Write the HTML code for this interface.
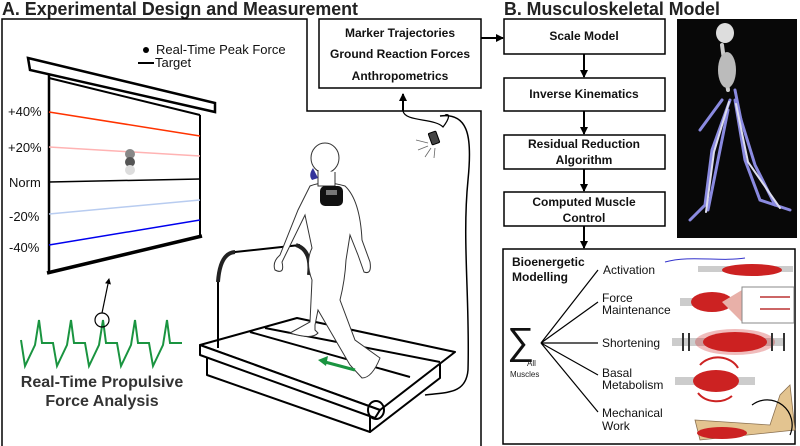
<!DOCTYPE html>
<html><head><meta charset="utf-8"><style>
html,body{margin:0;padding:0;background:#fff;}
svg{display:block;font-family:"Liberation Sans",sans-serif;}
</style></head><body>
<svg width="800" height="446" viewBox="0 0 800 446" xmlns="http://www.w3.org/2000/svg">
<defs>
<marker id="ah" markerWidth="8" markerHeight="8" refX="7" refY="4" orient="auto" markerUnits="userSpaceOnUse"><path d="M0,0 L8,4 L0,8 Z" fill="#000"/></marker>
<marker id="as" markerWidth="6" markerHeight="6" refX="5" refY="3" orient="auto" markerUnits="userSpaceOnUse"><path d="M0,0 L6,3 L0,6 Z" fill="#000"/></marker>
</defs>
<!-- titles -->
<text x="2" y="15" font-size="18" font-weight="bold" fill="#222" textLength="356" lengthAdjust="spacingAndGlyphs">A. Experimental Design and Measurement</text>
<text x="504" y="15" font-size="18" font-weight="bold" fill="#222" textLength="216" lengthAdjust="spacingAndGlyphs">B. Musculoskeletal Model</text>
<!-- panel A outline -->
<path d="M2,446 L2,19 L307,19 L307,111 L481,111 L481,446" fill="none" stroke="#000" stroke-width="1.5"/>
<!-- marker box -->
<rect x="319" y="19" width="162" height="69" fill="#fff" stroke="#000" stroke-width="1.5"/>
<g font-size="12" font-weight="bold" text-anchor="middle" fill="#111">
<text x="400" y="37">Marker Trajectories</text>
<text x="400" y="58">Ground Reaction Forces</text>
<text x="400" y="80">Anthropometrics</text>
</g>
<line x1="481" y1="38" x2="503" y2="38" stroke="#000" stroke-width="2" marker-end="url(#ah)"/>
<!-- flow boxes -->
<g fill="#fff" stroke="#000" stroke-width="1.5">
<rect x="504" y="19" width="161" height="35"/>
<rect x="504" y="78" width="161" height="33"/>
<rect x="504" y="135" width="161" height="34"/>
<rect x="504" y="192" width="161" height="34"/>
<rect x="503" y="249" width="292" height="195"/>
</g>
<g font-size="12" font-weight="bold" text-anchor="middle" fill="#111">
<text x="584" y="40">Scale Model</text>
<text x="584" y="98">Inverse Kinematics</text>
<text x="584" y="148">Residual Reduction</text>
<text x="584" y="164">Algorithm</text>
<text x="584" y="206">Computed Muscle</text>
<text x="584" y="222">Control</text>
</g>
<g stroke="#000" stroke-width="2" marker-end="url(#ah)">
<line x1="584" y1="54" x2="584" y2="77"/>
<line x1="584" y1="111" x2="584" y2="134"/>
<line x1="584" y1="169" x2="584" y2="191"/>
<line x1="584" y1="226" x2="584" y2="248"/>
</g>
<!-- skeleton panel -->
<rect x="677" y="19" width="120" height="219" fill="#080808"/>
<g stroke-linecap="round">
<ellipse cx="725" cy="33" rx="9" ry="10" fill="#ddd"/>
<path d="M722,45 L728,90" stroke="#ccc" stroke-width="4"/>
<ellipse cx="727" cy="70" rx="9" ry="18" fill="#bbb"/>
<g stroke="#8a8ae0" stroke-width="3" fill="none">
<path d="M730,100 L712,150 L705,205 L690,220"/>
<path d="M735,100 L745,160 L760,200 L790,210"/>
<path d="M728,110 L718,160 L708,210"/>
<path d="M738,110 L755,165 L775,205"/>
<path d="M722,100 L700,130"/>
<path d="M735,90 L742,125"/>
</g>
<g stroke="#dde" stroke-width="2" fill="none">
<path d="M729,102 L714,152 L706,212"/>
<path d="M736,104 L748,162 L780,208"/>
</g>
</g>
<!-- screen -->
<path d="M28,58 L215,103 L215,112 L30,70 Z" fill="#fff" stroke="#000" stroke-width="2.5"/>
<line x1="49" y1="78" x2="200" y2="115" stroke="#000" stroke-width="2"/>
<line x1="49" y1="75" x2="49" y2="273" stroke="#000" stroke-width="2.5"/>
<line x1="200" y1="115" x2="200" y2="237" stroke="#000" stroke-width="2"/>
<line x1="47" y1="273" x2="202" y2="236" stroke="#000" stroke-width="3.5"/>
<line x1="49" y1="112" x2="200" y2="136" stroke="#ff3300" stroke-width="1.5"/>
<line x1="49" y1="147" x2="200" y2="156" stroke="#ffb3b3" stroke-width="1.5"/>
<line x1="49" y1="182" x2="200" y2="179" stroke="#000" stroke-width="1.5"/>
<line x1="49" y1="214" x2="200" y2="200" stroke="#b8ccf0" stroke-width="1.5"/>
<line x1="49" y1="245" x2="200" y2="220" stroke="#0000ee" stroke-width="1.5"/>
<circle cx="130" cy="154" r="5" fill="#888"/>
<circle cx="130" cy="162" r="5" fill="#555"/>
<circle cx="130" cy="170" r="5" fill="#ddd"/>
<g font-size="13" fill="#111">
<text x="8" y="116">+40%</text>
<text x="8" y="152">+20%</text>
<text x="9" y="187">Norm</text>
<text x="9" y="221">-20%</text>
<text x="9" y="252">-40%</text>
<text x="156" y="54">Real-Time Peak Force</text>
<text x="155" y="67">Target</text>
</g>
<circle cx="146" cy="50" r="3" fill="#000"/>
<line x1="138" y1="63" x2="154" y2="63" stroke="#000" stroke-width="2"/>
<!-- waveform -->
<path d="M21,340 L25,366 L35,345 L39,320 L42,343 L53,343 L57,366 L67,345 L71,320 L74,343 L85,343 L89,366 L99,345 L103,320 L106,343 L117,343 L121,366 L131,345 L135,320 L138,343 L149,343 L153,366 L163,345 L167,320 L170,343 L182,343" fill="none" stroke="#1a9440" stroke-width="2"/>
<circle cx="102" cy="320" r="7" fill="none" stroke="#000" stroke-width="1.2"/>
<line x1="102" y1="313" x2="109" y2="279" stroke="#000" stroke-width="1.2" marker-end="url(#as)"/>
<g font-size="16" font-weight="bold" text-anchor="middle" fill="#333">
<text x="102" y="387">Real-Time Propulsive</text>
<text x="102" y="406">Force Analysis</text>
</g>
<!-- cable -->
<line x1="403" y1="111" x2="403" y2="94" stroke="#000" stroke-width="2" marker-end="url(#ah)"/>
<path d="M403,111 C405,122 435,118 443,127 C450,118 450,113 445,115" fill="none" stroke="#000" stroke-width="1.2"/>
<path d="M440,116 C470,112 472,140 468,180 C462,240 470,300 468,370 C466,395 445,392 425,395" fill="none" stroke="#000" stroke-width="1.5"/>
<rect x="430" y="132" width="8" height="12" rx="1" transform="rotate(-20 434 138)" fill="#444" stroke="#000"/>
<g stroke="#666" stroke-width="0.8"><line x1="428" y1="143" x2="416" y2="140"/><line x1="428" y1="146" x2="418" y2="150"/><line x1="431" y1="148" x2="425" y2="157"/><line x1="435" y1="148" x2="434" y2="158"/></g>
<!-- treadmill -->
<g fill="#fff" stroke="#000" stroke-width="2" stroke-linejoin="round">
<path d="M207,355 L207,375 L370,432 L370,412 Z"/>
<path d="M370,412 L370,432 L440,378 L440,360 Z"/>
<path d="M200,345 L297,318 L455,352 L380,410 Z"/>
<path d="M200,345 L200,355 L375,418 L380,410 Z"/>
</g>
<g stroke="#000" stroke-width="2" fill="none">
<line x1="250" y1="332" x2="410" y2="377"/>
<line x1="265" y1="328" x2="440" y2="362"/>
<ellipse cx="376" cy="410" rx="8" ry="9"/>
<path d="M218,348 L218,282 Q220,253 235,252 L300,245"/>
</g>
<path d="M218,282 Q220,253 235,252" stroke="#222" stroke-width="4" fill="none"/>
<path d="M296,245 Q312,250 309,275" stroke="#222" stroke-width="4" fill="none"/>
<!-- person -->
<g fill="#fff" stroke="#333" stroke-width="1">
<path d="M310,186 Q325,180 345,186 Q360,200 362,240 L370,262 Q372,275 364,272 L358,255 L350,235 L346,260 Q345,280 340,300 L355,340 L380,358 Q372,378 362,378 L350,365 L318,310 L315,325 L315,330 L318,333 Q312,340 290,333 L310,322 L312,280 Q305,262 312,248 L305,215 L282,262 Q285,275 275,270 Q272,262 280,255 L298,210 Z"/>
<ellipse cx="325" cy="158" rx="14" ry="15"/>
<path d="M318,170 L318,186 L335,186 L335,172"/>
</g>
<rect x="320" y="186" width="23" height="20" rx="5" fill="#111"/>
<rect x="326" y="190" width="11" height="5" fill="#777"/>
<path d="M313,168 Q308,175 312,180 L318,178 Z" fill="#33339a"/>
<line x1="355" y1="370" x2="325" y2="362" stroke="#1a9440" stroke-width="3"/>
<path d="M318,360 L328,356 L326,366 Z" fill="#1a9440"/>
<!-- bioenergetic -->
<g font-size="12" font-weight="bold" fill="#111">
<text x="512" y="266">Bioenergetic</text>
<text x="512" y="281">Modelling</text>
</g>
<text x="507" y="354" font-size="38" fill="#111">∑</text>
<text x="527" y="366" font-size="8" fill="#222">All</text>
<text x="510" y="377" font-size="8" fill="#222">Muscles</text>
<g stroke="#000" stroke-width="1.2">
<line x1="541" y1="343" x2="598" y2="270"/>
<line x1="541" y1="343" x2="598" y2="302"/>
<line x1="541" y1="343" x2="598" y2="343"/>
<line x1="541" y1="343" x2="598" y2="375"/>
<line x1="541" y1="343" x2="598" y2="412"/>
</g>
<g font-size="12" fill="#111">
<text x="603" y="274">Activation</text>
<text x="602" y="302">Force</text>
<text x="602" y="314">Maintenance</text>
<text x="602" y="347">Shortening</text>
<text x="602" y="377">Basal</text>
<text x="602" y="389">Metabolism</text>
<text x="602" y="417">Mechanical</text>
<text x="602" y="430">Work</text>
</g>
<!-- muscle icons -->
<g fill="#ccc"><rect x="698" y="266" width="95" height="6"/><rect x="680" y="298" width="70" height="8"/><rect x="672" y="338" width="112" height="8"/><rect x="675" y="377" width="80" height="8"/></g>
<path d="M665,262 C690,255 720,262 745,258" stroke="#33c" fill="none"/>
<ellipse cx="752" cy="270" rx="30" ry="6" fill="#cc2222"/>
<ellipse cx="712" cy="302" rx="21" ry="10" fill="#cc2222"/>
<path d="M722,302 L742,290 L742,322 Z" fill="#e8b0a8"/>
<rect x="742" y="287" width="52" height="36" fill="#fff" stroke="#888"/>
<g stroke="#b33" stroke-width="1.5"><line x1="760" y1="297" x2="790" y2="297"/><line x1="760" y1="309" x2="790" y2="309"/></g>
<ellipse cx="735" cy="342" rx="32" ry="10" fill="#cc2222"/>
<ellipse cx="735" cy="342" rx="40" ry="13" fill="#cc2222" opacity="0.3"/>
<g stroke="#333" stroke-width="2"><line x1="683" y1="333" x2="683" y2="351"/><line x1="689" y1="333" x2="689" y2="351"/><line x1="772" y1="333" x2="772" y2="351"/><line x1="784" y1="333" x2="784" y2="351"/></g>
<ellipse cx="716" cy="381" rx="23" ry="11" fill="#cc2222"/>
<path d="M700,365 A22,18 0 0 1 738,368" fill="none" stroke="#cc2222" stroke-width="2"/>
<path d="M732,396 A22,18 0 0 1 698,393" fill="none" stroke="#cc2222" stroke-width="2"/>
<path d="M695,420 L770,425 L780,395 L790,385 L795,430 L700,440 Z" fill="#e3c490" stroke="#8a7050" stroke-width="0.8"/>
<ellipse cx="722" cy="433" rx="25" ry="6" fill="#cc2222"/>
<path d="M752,405 A25,25 0 0 1 790,435" fill="none" stroke="#000" stroke-width="1.2"/>
</svg>
</body></html>
